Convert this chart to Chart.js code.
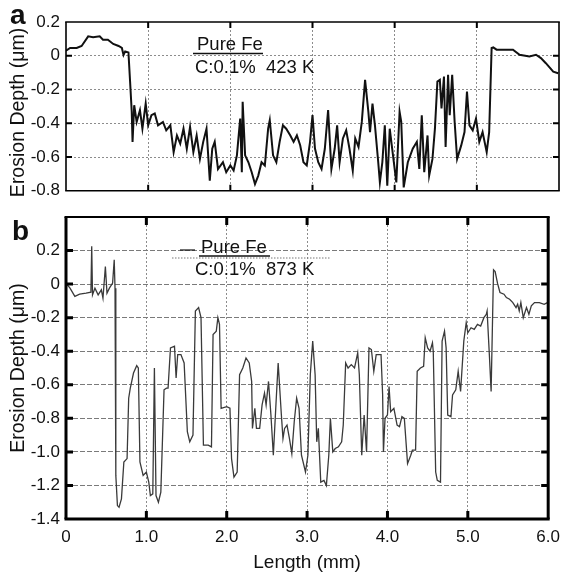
<!DOCTYPE html>
<html>
<head>
<meta charset="utf-8">
<script src="https://cdn.jsdelivr.net/npm/chart.js@4"></script>
<style>
  body { margin: 0; background: #fff; }
  #wrap { position: relative; width: 568px; height: 574px; }
  canvas { position: absolute; left: 0; }
  #chartA { top: 0; }
  #chartB { top: 200px; }
</style>
</head>
<body>
<div id="wrap">
  <canvas id="chartA" width="568" height="207"></canvas>
  <canvas id="chartB" width="568" height="374"></canvas>
</div>
<script>
// panel a : Pure Fe, C:0.1%, 423 K
const lengthA = [0.00, 0.05, 0.13, 0.19, 0.27, 0.33, 0.41, 0.45, 0.51, 0.575, 0.64, 0.68, 0.70, 0.72, 0.76, 0.78, 0.80, 0.81, 0.83,
  0.86, 0.90, 0.93, 0.97, 1.00, 1.04, 1.08, 1.12, 1.18, 1.22, 1.27, 1.31, 1.35, 1.39, 1.43, 1.47, 1.51, 1.55, 1.59, 1.63, 1.67,
  1.71, 1.75, 1.78, 1.81, 1.85, 1.91, 1.95, 2.00, 2.04, 2.08, 2.12, 2.14, 2.15, 2.18, 2.22, 2.26, 2.30, 2.34, 2.38, 2.42, 2.46,
  2.48, 2.52, 2.56, 2.60, 2.64, 2.68, 2.73, 2.77, 2.81, 2.85, 2.89, 2.93, 2.97, 3.00, 3.03, 3.07, 3.11, 3.15, 3.19, 3.23, 3.27,
  3.30, 3.33, 3.37, 3.41, 3.45, 3.49, 3.52, 3.56, 3.60, 3.64, 3.68, 3.70, 3.73, 3.76, 3.80, 3.82, 3.85, 3.88, 3.91, 3.94, 3.97,
  4.02, 4.06, 4.08, 4.11, 4.16, 4.22, 4.27, 4.30, 4.33, 4.36, 4.40, 4.42, 4.46, 4.49, 4.52, 4.55, 4.57, 4.60, 4.62, 4.65, 4.67,
  4.70, 4.73, 4.76, 4.81, 4.85, 4.88, 4.91, 4.95, 4.99, 5.03, 5.07, 5.12, 5.15, 5.18, 5.20, 5.24, 5.36, 5.44, 5.52, 5.64, 5.72,
  5.78, 5.84, 5.93, 5.99];
const depthA = [0.03, 0.046, 0.046, 0.058, 0.115, 0.11, 0.115, 0.095, 0.095, 0.07, 0.058, 0.046, 0.005, 0.026, 0.02, -0.153, -0.332, -0.51, -0.293,
  -0.392, -0.322, -0.432, -0.283, -0.412, -0.352, -0.342, -0.412, -0.392, -0.442, -0.412, -0.571, -0.472, -0.521, -0.432, -0.551, -0.422, -0.571, -0.472, -0.611, -0.51,
  -0.432, -0.74, -0.551, -0.51, -0.671, -0.631, -0.69, -0.65, -0.68, -0.59, -0.372, -0.69, -0.272, -0.59, -0.631, -0.69, -0.76, -0.71, -0.631, -0.65, -0.432,
  -0.382, -0.59, -0.631, -0.51, -0.412, -0.432, -0.472, -0.51, -0.472, -0.53, -0.631, -0.65, -0.51, -0.352, -0.55, -0.631, -0.671, -0.551, -0.322, -0.671, -0.551,
  -0.412, -0.631, -0.49, -0.442, -0.551, -0.68, -0.49, -0.54, -0.392, -0.143, -0.332, -0.452, -0.283, -0.412, -0.631, -0.75, -0.631, -0.412, -0.77, -0.432, -0.551,
  -0.75, -0.332, -0.392, -0.78, -0.631, -0.551, -0.51, -0.671, -0.352, -0.69, -0.472, -0.71, -0.611, -0.432, -0.153, -0.143, -0.312, -0.123, -0.54, -0.113, -0.352,
  -0.113, -0.392, -0.611, -0.531, -0.452, -0.212, -0.412, -0.442, -0.372, -0.51, -0.452, -0.571, -0.452, 0.046, 0.05, 0.036, 0.036, 0.036, 0.006, -0.004, 0.006,
  -0.014, -0.044, -0.094, -0.104];

// panel b : Pure Fe, C:0.1%, 873 K
const lengthB = [0.01, 0.05, 0.11, 0.17, 0.25, 0.31, 0.32, 0.33, 0.36, 0.40, 0.44, 0.46, 0.49, 0.51, 0.54, 0.58, 0.60, 0.61, 0.62, 0.64,
  0.66, 0.69, 0.72, 0.76, 0.78, 0.80, 0.84, 0.88, 0.90, 0.92, 0.96, 1.00, 1.03, 1.05, 1.08, 1.10, 1.12, 1.15, 1.18, 1.22, 1.25,
  1.27, 1.30, 1.35, 1.37, 1.39, 1.43, 1.47, 1.51, 1.54, 1.58, 1.61, 1.65, 1.68, 1.71, 1.77, 1.81, 1.83, 1.87, 1.89, 1.91, 1.93,
  2.00, 2.04, 2.06, 2.09, 2.13, 2.16, 2.20, 2.24, 2.28, 2.31, 2.32, 2.35, 2.37, 2.41, 2.44, 2.47, 2.49, 2.52, 2.55, 2.58, 2.61,
  2.64, 2.68, 2.70, 2.72, 2.75, 2.78, 2.81, 2.84, 2.87, 2.90, 2.93, 2.98, 3.01, 3.04, 3.07, 3.10, 3.12, 3.14, 3.17, 3.21, 3.24,
  3.27, 3.29, 3.32, 3.35, 3.39, 3.43, 3.45, 3.48, 3.51, 3.55, 3.59, 3.63, 3.65, 3.68, 3.71, 3.74, 3.77, 3.80, 3.83, 3.86, 3.92,
  3.94, 3.95, 3.97, 4.00, 4.02, 4.04, 4.08, 4.12, 4.15, 4.18, 4.21, 4.25, 4.29, 4.31, 4.35, 4.37, 4.41, 4.45, 4.47, 4.50, 4.53,
  4.56, 4.57, 4.60, 4.62, 4.66, 4.68, 4.71, 4.73, 4.75, 4.79, 4.81, 4.85, 4.88, 4.91, 4.95, 4.98, 5.00, 5.04, 5.08, 5.12, 5.16,
  5.20, 5.23, 5.24, 5.27, 5.29, 5.32, 5.34, 5.37, 5.40, 5.45, 5.48, 5.52, 5.56, 5.60, 5.62, 5.64, 5.66, 5.69, 5.73, 5.76, 5.79,
  5.83, 5.89, 5.95, 5.99];
const depthB = [0, -0.024, -0.073, -0.06, -0.054, -0.048, 0.225, -0.064, -0.024, -0.064, -0.034, -0.084, 0.105, -0.054, -0.024, 0.006, 0.145, -0.024, -1.14, -1.32,
  -1.33, -1.28, -1.06, -1.04, -0.68, -0.62, -0.53, -0.486, -0.50, -1.06, -1.14, -1.12, -1.18, -1.26, -1.25, -0.50, -1.26, -1.30, -1.24, -0.63, -0.62,
  -0.62, -0.38, -0.37, -0.56, -0.42, -0.42, -0.47, -0.88, -0.94, -0.90, -0.16, -0.14, -0.20, -0.96, -0.96, -0.97, -0.30, -0.28, -0.20, -0.24, -0.74,
  -0.73, -0.74, -1.04, -1.15, -1.12, -0.54, -0.50, -0.44, -0.47, -0.58, -0.86, -0.74, -0.86, -0.86, -0.72, -0.65, -0.72, -0.58, -0.78, -1.02, -0.74,
  -0.47, -0.78, -0.92, -0.86, -0.84, -0.92, -1.01, -0.82, -0.68, -0.74, -1.02, -1.12, -1.02, -0.54, -0.34, -0.54, -0.94, -0.86, -1.18, -1.17, -1.20,
  -1.02, -0.80, -1.00, -0.98, -0.97, -0.94, -0.84, -0.47, -0.50, -0.48, -0.50, -0.41, -0.54, -1.02, -0.78, -1.00, -0.38, -0.39, -0.52, -0.42, -0.42,
  -0.66, -1.00, -0.80, -0.78, -0.61, -0.76, -0.74, -0.84, -0.85, -0.79, -0.80, -1.07, -1.02, -0.99, -0.99, -0.52, -0.50, -0.49, -0.32, -0.38, -0.40,
  -0.35, -0.40, -1.12, -1.17, -1.18, -0.34, -0.28, -0.38, -0.78, -0.79, -0.66, -0.63, -0.52, -0.64, -0.34, -0.23, -0.29, -0.26, -0.27, -0.24, -0.25,
  -0.20, -0.18, -0.16, -0.44, -0.64, 0.085, 0.075, 0.004, -0.05, -0.06, -0.08, -0.09, -0.11, -0.14, -0.12, -0.16, -0.11, -0.20, -0.14, -0.18, -0.13,
  -0.11, -0.11, -0.12, -0.11];

const xTicks = [0, 1, 2, 3, 4, 5, 6];
const xTickLabels = ['0', '1.0', '2.0', '3.0', '4.0', '5.0', '6.0'];
const yTicksA = [0.2, 0, -0.2, -0.4, -0.6, -0.8];
const yTickLabelsA = ['0.2', '0', '-0.2', '-0.4', '-0.6', '-0.8'];
const yTicksB = [0.4, 0.2, 0, -0.2, -0.4, -0.6, -0.8, -1.0, -1.2, -1.4];
const yTickLabelsB = ['', '0.2', '0', '-0.2', '-0.4', '-0.6', '-0.8', '-1.0', '-1.2', '-1.4'];

const FONT = "'Liberation Sans', Arial, Helvetica, sans-serif";

// frame with inward tick marks on every side
const framePlugin = {
  id: 'frame',
  afterDraw(chart, args, o) {
    const { ctx, chartArea: a, scales: { x, y } } = chart;
    ctx.save();
    ctx.strokeStyle = '#000';
    ctx.lineWidth = o.tickWidth;
    ctx.beginPath();
    xTicks.forEach(v => {
      if (v === x.min || v === x.max) return;
      const px = x.getPixelForValue(v);
      ctx.moveTo(px, a.top); ctx.lineTo(px, a.top + o.xLen);
      ctx.moveTo(px, a.bottom); ctx.lineTo(px, a.bottom - o.xLen);
    });
    o.yTicks.forEach(v => {
      if (v === y.min || v === y.max) return;
      const py = y.getPixelForValue(v);
      ctx.moveTo(a.left, py); ctx.lineTo(a.left + o.yLen, py);
      ctx.moveTo(a.right, py); ctx.lineTo(a.right - o.yLen, py);
    });
    ctx.stroke();

    const side = (w, x1, y1, x2, y2) => {
      ctx.lineWidth = w;
      ctx.beginPath(); ctx.moveTo(x1, y1); ctx.lineTo(x2, y2); ctx.stroke();
    };
    side(o.top, a.left - o.left / 2, a.top, a.right + o.right / 2, a.top);
    side(o.bottom, a.left - o.left / 2, a.bottom, a.right + o.right / 2, a.bottom);
    side(o.left, a.left, a.top, a.left, a.bottom);
    side(o.right, a.right, a.top, a.right, a.bottom);
    ctx.restore();
  }
};

// panel letter, rotated axis title and sample description
const notesPlugin = {
  id: 'notes',
  afterDraw(chart, args, o) {
    const ctx = chart.ctx;
    const a = chart.chartArea;
    ctx.save();
    ctx.fillStyle = '#111';
    ctx.textBaseline = 'alphabetic';
    (o.items || []).forEach(t => {
      ctx.font = t.font;
      ctx.fillText(t.text, t.x, t.y);
    });
    if (o.yTitle) {
      ctx.save();
      ctx.font = o.yTitle.font;
      ctx.textAlign = 'center';
      ctx.translate(o.yTitle.x, (a.top + a.bottom) / 2 + o.yTitle.shift);
      ctx.rotate(-Math.PI / 2);
      ctx.fillText(o.yTitle.text, 0, 0);
      ctx.restore();
    }
    (o.lines || []).forEach(l => {
      ctx.lineWidth = l.w;
      ctx.setLineDash(l.dash || []);
      ctx.strokeStyle = l.color || '#111';
      ctx.beginPath(); ctx.moveTo(l.x1, l.y); ctx.lineTo(l.x2, l.y); ctx.stroke();
    });
    ctx.restore();
  }
};

function hideEdges(color) {
  return c => (c.tick && (c.tick.value === c.scale.min || c.tick.value === c.scale.max)) ? 'rgba(0,0,0,0)' : color;
}

function makeChart(id, xs, ys, cfg) {
  return new Chart(document.getElementById(id), {
    type: 'line',
    data: {
      datasets: [{
        data: xs.map((v, i) => ({ x: v, y: ys[i] })),
        borderColor: cfg.lineColor,
        borderWidth: cfg.lineWidth,
        pointRadius: 0,
        tension: 0,
        fill: false
      }]
    },
    options: {
      responsive: false,
      animation: false,
      events: [],
      layout: { padding: cfg.padding },
      scales: {
        x: {
          type: 'linear',
          min: 0, max: 6,
          afterBuildTicks: s => { s.ticks = xTicks.map(v => ({ value: v })); },
          afterFit: s => { s.height = cfg.xHeight; },
          grid: { color: hideEdges(cfg.xGridColor), lineWidth: 1, drawTicks: false },
          border: { display: false, dash: cfg.xDash },
          ticks: {
            display: cfg.showX,
            autoSkip: false,
            maxRotation: 0,
            padding: 8,
            color: '#111',
            font: { family: FONT, size: 17 },
            callback: (v, i) => xTickLabels[i]
          },
          title: {
            display: cfg.showX,
            text: 'Length (mm)',
            color: '#111',
            font: { family: FONT, size: 19 },
            padding: { top: 0, bottom: 0 }
          }
        },
        y: {
          min: cfg.yMin, max: cfg.yMax,
          afterBuildTicks: s => { s.ticks = cfg.yTicks.map(v => ({ value: v })); },
          afterFit: s => { s.width = 66; },
          grid: { color: hideEdges(cfg.yGridColor), lineWidth: 1, drawTicks: false },
          border: { display: false, dash: cfg.yDash },
          ticks: {
            autoSkip: false,
            padding: 6,
            color: '#111',
            font: { family: FONT, size: 17 },
            callback: (v, i) => cfg.yLabels[i]
          }
        }
      },
      plugins: {
        legend: { display: false },
        tooltip: { enabled: false },
        frame: cfg.frame,
        notes: cfg.notes
      }
    },
    plugins: [framePlugin, notesPlugin]
  });
}

makeChart('chartA', lengthA, depthA, {
  lineColor: '#111', lineWidth: 2,
  padding: { top: 22, right: 9, bottom: 0, left: 0 },
  xHeight: 0, showX: false,
  yMin: -0.8, yMax: 0.2, yTicks: yTicksA, yLabels: yTickLabelsA,
  xGridColor: '#8c8c8c', yGridColor: '#8c8c8c', xDash: [2, 2], yDash: [2, 2],
  frame: { yTicks: yTicksA, tickWidth: 2, xLen: 6, yLen: 6, top: 1.6, bottom: 1.6, left: 1.6, right: 1.6 },
  notes: {
    items: [
      { text: 'a', x: 10, y: 24, font: "bold 28px " + FONT },
      { text: 'Pure Fe', x: 197, y: 50, font: "18.5px " + FONT },
      { text: 'C:0.1%  423 K', x: 195, y: 73, font: "18.5px " + FONT }
    ],
    yTitle: { text: 'Erosion Depth (μm)', x: 24, shift: 6, font: "19.5px " + FONT },
    lines: [{ x1: 193, x2: 263, y: 53.5, w: 1.5 }]
  }
});

makeChart('chartB', lengthB, depthB, {
  lineColor: '#3a3a3a', lineWidth: 1.3,
  padding: { top: 17, right: 10, bottom: 0, left: 0 },
  xHeight: 55, showX: true,
  yMin: -1.4, yMax: 0.4, yTicks: yTicksB, yLabels: yTickLabelsB,
  xGridColor: '#8c8c8c', yGridColor: '#7a7a7a', xDash: [2, 2], yDash: [5, 2],
  frame: { yTicks: yTicksB, tickWidth: 3, xLen: 8, yLen: 7, top: 2.2, bottom: 3, left: 3, right: 3 },
  notes: {
    items: [
      { text: 'b', x: 12, y: 40, font: "bold 28px " + FONT },
      { text: 'Pure Fe', x: 201, y: 53, font: "18.5px " + FONT },
      { text: 'C:0.1%  873 K', x: 195, y: 75, font: "18.5px " + FONT }
    ],
    yTitle: { text: 'Erosion Depth (μm)', x: 24, shift: 0, font: "19.5px " + FONT },
    lines: [
      { x1: 180, x2: 195, y: 50, w: 1.2 },
      { x1: 199, x2: 270, y: 56, w: 1.5 },
      { x1: 172, x2: 330, y: 58, w: 1, dash: [1.5, 1.5], color: '#777' }
    ]
  }
});
</script>
</body>
</html>
